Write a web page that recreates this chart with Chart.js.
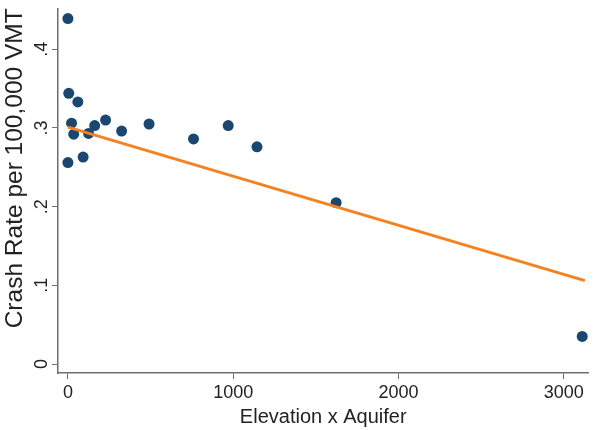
<!DOCTYPE html>
<html lang="en">

<head>
    <meta charset="UTF-8">
    <title>Crash Rate vs Elevation x Aquifer</title>
    <script src="https://cdn.jsdelivr.net/npm/chart.js"></script>
    <style>
        body { margin: 0; background: #fff; }
        canvas { display: block; }
    </style>
</head>

<body>
    <canvas id="crashChart" width="594" height="430"></canvas>

    <script>
        // observed counties: elevation x aquifer vs crash rate
        const elevAquifer = [0, 5, 60, 22, 35, 0, 92, 125, 162, 228, 325, 491, 760, 970, 1144, 1623, 3112];
        const crashRate = [0.439, 0.344, 0.333, 0.306, 0.292, 0.256, 0.263, 0.293, 0.303, 0.310, 0.296, 0.305, 0.286, 0.303, 0.276, 0.205, 0.035];

        // fitted line endpoints
        const fitX = [0, 3128];
        const fitY = [0.301, 0.106];

        const xTicks = [0, 1000, 2000, 3000];
        const yTicks = [0, 0.1, 0.2, 0.3, 0.4];
        const yTickLabels = ['0', '.1', '.2', '.3', '.4'];

        const axisColor = '#6e6e6e';
        const textColor = '#222';
        const fontFamily = '"Liberation Sans", Arial, Helvetica, sans-serif';

        const ctx = document.getElementById('crashChart').getContext('2d');
        new Chart(ctx, {
            type: 'scatter',
            data: {
                datasets: [{
                    type: 'line',
                    label: 'Fitted values',
                    data: fitX.map((x, i) => ({ x, y: fitY[i] })),
                    borderColor: '#f58220',
                    borderWidth: 3,
                    pointRadius: 0,
                    fill: false,
                    order: 0
                }, {
                    label: 'Crash Rate',
                    data: elevAquifer.map((x, i) => ({ x, y: crashRate[i] })),
                    backgroundColor: '#1a476f',
                    borderWidth: 0,
                    pointRadius: 5.5,
                    order: 1
                }]
            },
            options: {
                responsive: false,
                animation: false,
                devicePixelRatio: 1,
                layout: { padding: { top: 7, right: 0, left: 0, bottom: 0 } },
                plugins: {
                    legend: { display: false },
                    tooltip: { enabled: false }
                },
                scales: {
                    x: {
                        type: 'linear',
                        min: -60,
                        max: 3150,
                        afterBuildTicks: s => { s.ticks = xTicks.map(v => ({ value: v })); },
                        afterFit: s => { s.height = 57; },
                        border: { color: axisColor, width: 1.5 },
                        grid: { drawOnChartArea: false, tickLength: 6, color: axisColor, tickWidth: 1 },
                        ticks: {
                            color: textColor,
                            font: { family: fontFamily, size: 18 },
                            padding: 3,
                            maxRotation: 0,
                            callback: v => String(v)
                        },
                        title: {
                            display: true,
                            text: 'Elevation x Aquifer',
                            color: textColor,
                            font: { family: fontFamily, size: 20 },
                            padding: { top: 0, bottom: 1 }
                        }
                    },
                    y: {
                        type: 'linear',
                        min: -0.0114,
                        max: 0.452,
                        afterBuildTicks: s => { s.ticks = yTicks.map(v => ({ value: v })); },
                        afterFit: s => { s.width = 58; },
                        border: { color: axisColor, width: 1.5 },
                        grid: { drawOnChartArea: false, tickLength: 6, color: axisColor, tickWidth: 1 },
                        ticks: {
                            color: textColor,
                            // small line height keeps rotated labels from padding the top of the plot
                            font: { family: fontFamily, size: 18, lineHeight: 0.7 },
                            minRotation: 90,
                            maxRotation: 90,
                            crossAlign: 'center',
                            padding: 2,
                            callback: v => yTickLabels[yTicks.indexOf(v)]
                        },
                        title: {
                            display: true,
                            text: 'Crash Rate per 100,000 VMT',
                            align: 'end',
                            color: textColor,
                            font: { family: fontFamily, size: 24.5 },
                            padding: { top: 1, bottom: 0 }
                        }
                    }
                }
            }
        });
    </script>
</body>

</html>
